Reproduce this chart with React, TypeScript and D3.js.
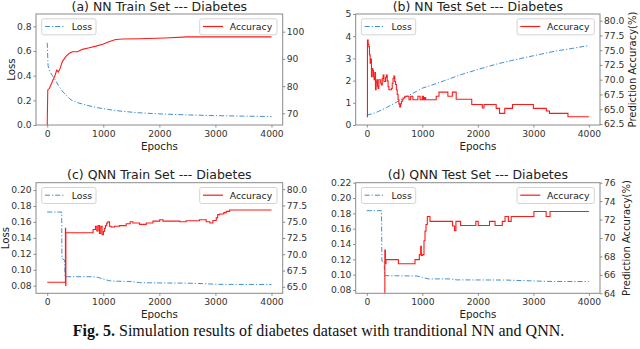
import React, { useEffect, useRef } from 'react';
import * as d3 from 'd3';

const epochTicks = [0, 1000, 2000, 3000, 4000];

// (a) NN train set
const aLossEpochs = [0, 15, 50, 100, 150, 200, 270, 350, 420, 550, 700, 900, 1100, 1300, 1600, 2000, 2500, 3000, 3500, 4000];
const aLoss = [0.666, 0.48, 0.43, 0.395, 0.36, 0.32, 0.275, 0.235, 0.205, 0.18, 0.16, 0.14, 0.125, 0.113, 0.1, 0.09, 0.082, 0.076, 0.072, 0.069];
const aAccEpochs = [0, 10, 40, 90, 140, 170, 200, 230, 270, 330, 390, 450, 540, 630, 750, 870, 990, 1100, 1220, 1350, 1650, 2100, 2500, 4000];
const aAcc = [65.7, 78.6, 79.2, 81.6, 84.0, 85.9, 85.2, 86.5, 89.0, 90.8, 92.0, 92.6, 92.6, 93.5, 94.1, 94.7, 95.4, 96.3, 97.1, 97.3, 97.4, 97.7, 98.1, 98.1];

// (b) NN test set
const bLossEpochs = [0, 100, 200, 350, 500, 700, 900, 1000, 1150, 1400, 1700, 2000, 2300, 2600, 3000, 3400, 3700, 4000];
const bLoss = [0.45, 0.5, 0.6, 0.78, 0.98, 1.26, 1.52, 1.66, 1.78, 2.0, 2.27, 2.5, 2.72, 2.9, 3.12, 3.33, 3.45, 3.58];
const bAccEpochs = [0, 12, 24, 36, 48, 60, 72, 84, 96, 108, 120, 132, 144, 156, 168, 180, 192, 204, 216, 234, 250, 263, 278, 293, 308, 323, 338, 353, 368, 383, 398, 443, 458, 473, 488, 503, 518, 533, 548, 563, 578, 593, 608, 623, 638, 653, 683, 760, 790, 830, 920, 960, 1000, 1020, 1040, 1060, 1250, 1300, 1460, 1540, 1610, 1890, 2080, 2110, 2330, 2390, 2485, 2623, 3000, 3234, 3290, 3623, 4000];
const bAcc = [63.74, 76.7, 76.0, 75.6, 74.2, 72.8, 73.5, 70.5, 71.9, 71.6, 70.5, 70.0, 71.2, 68.3, 69.6, 70.0, 68.9, 68.5, 70.0, 70.0, 69.4, 69.1, 70.2, 70.8, 69.7, 69.7, 70.4, 70.8, 69.8, 68.8, 68.3, 68.5, 69.4, 70.2, 70.6, 69.7, 69.2, 68.3, 67.5, 66.6, 65.9, 65.4, 65.9, 66.3, 66.6, 66.9, 67.2, 66.6, 67.2, 66.6, 67.2, 66.6, 67.2, 66.6, 67.0, 66.6, 67.2, 67.9, 67.2, 67.9, 66.7, 65.8, 65.2, 65.8, 65.15, 64.3, 65.15, 65.8, 65.15, 64.7, 64.3, 63.74, 63.74];

// (c) QNN train set
const cLossEpochs = [0, 258, 262, 300, 311, 318, 800, 900, 1000, 1105, 1200, 1500, 1650, 2000, 2500, 2800, 3000, 3500, 4000];
const cLoss = [0.1724, 0.1724, 0.1143, 0.1125, 0.112, 0.0913, 0.0913, 0.0905, 0.0885, 0.0862, 0.0857, 0.0853, 0.0838, 0.0835, 0.0832, 0.0826, 0.0818, 0.0816, 0.0816];
const cAccEpochs = [0, 325, 329, 333, 818, 860, 884, 908, 932, 955, 979, 1003, 1020, 1039, 1060, 1081, 1111, 1140, 1200, 1290, 1409, 1480, 1528, 1648, 1767, 1886, 2006, 2065, 2125, 2364, 2478, 2716, 2836, 2900, 2955, 3015, 3040, 3075, 3150, 3194, 3254, 4000];
const cAcc = [65.7, 74.0, 65.2, 73.3, 73.8, 74.3, 73.6, 74.4, 73.2, 74.3, 73.0, 73.5, 74.0, 74.4, 74.8, 75.0, 74.3, 74.2, 74.3, 74.4, 74.7, 75.0, 74.8, 74.6, 74.8, 75.1, 75.3, 75.1, 75.1, 75.0, 75.15, 75.3, 75.0, 74.8, 75.2, 75.6, 76.1, 76.2, 76.4, 76.6, 76.8, 76.8];

// (d) QNN test set
const dLossEpochs = [0, 265, 272, 312, 320, 900, 1000, 1108, 1500, 1620, 2500, 3000, 3300, 4000];
const dLoss = [0.1835, 0.1835, 0.1178, 0.1178, 0.0987, 0.0983, 0.0965, 0.0945, 0.0945, 0.0932, 0.093, 0.0918, 0.0912, 0.091];
const dAccEpochs = [0, 325, 335, 345, 569, 868, 946, 970, 982, 1006, 1030, 1048, 1066, 1090, 1138, 1545, 1581, 1605, 1689, 1964, 2006, 2210, 2310, 2440, 2490, 2550, 2600, 3010, 3230, 3300, 4000];
const dAcc = [63.0, 68.7, 67.2, 67.65, 67.2, 67.65, 68.2, 69.1, 68.1, 68.2, 69.7, 70.75, 71.46, 72.34, 71.8, 71.3, 70.8, 71.8, 71.35, 71.8, 71.35, 71.8, 71.35, 71.8, 72.34, 71.8, 72.34, 72.88, 72.34, 72.88, 72.88];

const panels = [
  {
    id: 'a', title: '(a) NN Train Set --- Diabetes',
    left: 36, right: 282.7, top: 14, bottom: 125,
    lossEpochs: aLossEpochs, loss: aLoss, accEpochs: aAccEpochs, acc: aAcc, accStep: false,
    lossDomain: [0, 0.9], lossTicks: [0, 0.2, 0.4, 0.6, 0.8], lossFmt: '.1f',
    accDomain: [65.7, 106.5], accTicks: [70, 80, 90, 100], accFmt: 'd',
    lossLabel: 'Loss', lossLabelX: 14.5, accLabel: null,
  },
  {
    id: 'b', title: '(b) NN Test Set --- Diabetes',
    left: 355.7, right: 600, top: 14, bottom: 125,
    lossEpochs: bLossEpochs, loss: bLoss, accEpochs: bAccEpochs, acc: bAcc, accStep: true,
    lossDomain: [0, 5], lossTicks: [0, 1, 2, 3, 4, 5], lossFmt: 'd',
    accDomain: [62.33, 81.13], accTicks: [62.5, 65, 67.5, 70, 72.5, 75, 77.5, 80], accFmt: '.1f',
    lossLabel: null, accLabel: 'Prediction Accuracy(%)', accLabelX: 635.5,
  },
  {
    id: 'c', title: '(c) QNN Train Set --- Diabetes',
    left: 36, right: 282.7, top: 182.7, bottom: 293.3,
    lossEpochs: cLossEpochs, loss: cLoss, accEpochs: cAccEpochs, acc: cAcc, accStep: true,
    lossDomain: [0.0705, 0.2092], lossTicks: [0.08, 0.1, 0.12, 0.14, 0.16, 0.18, 0.2], lossFmt: '.2f',
    accDomain: [64.0, 81.0], accTicks: [65, 67.5, 70, 72.5, 75, 77.5, 80], accFmt: '.1f',
    lossLabel: 'Loss', lossLabelX: 9.2, accLabel: null,
  },
  {
    id: 'd', title: '(d) QNN Test Set --- Diabetes',
    left: 355.7, right: 600, top: 182.7, bottom: 293.3,
    lossEpochs: dLossEpochs, loss: dLoss, accEpochs: dAccEpochs, acc: dAcc, accStep: true,
    lossDomain: [0.0757, 0.22], lossTicks: [0.08, 0.1, 0.12, 0.14, 0.16, 0.18, 0.2, 0.22], lossFmt: '.2f',
    accDomain: [64, 76], accTicks: [64, 66, 68, 70, 72, 74, 76], accFmt: 'd',
    lossLabel: null, accLabel: 'Prediction Accuracy(%)', accLabelX: 629.5,
  },
];

const FONT = 'DejaVu Sans';
const LOSS_COLOR = '#3f8fd2';
const ACC_COLOR = '#ff1a1a';
const SPINE = '#8a8a8a';
const TEXT = '#333';

function drawPanel(svg, p) {
  const g = svg.append('g').attr('font-family', FONT);
  const x = d3.scaleLinear().domain([-200, 4200]).range([p.left, p.right]);
  const yL = d3.scaleLinear().domain(p.lossDomain).range([p.bottom, p.top]);
  const yR = d3.scaleLinear().domain(p.accDomain).range([p.bottom, p.top]);

  svg.append('clipPath').attr('id', 'clip-' + p.id)
    .append('rect')
    .attr('x', p.left).attr('y', p.top)
    .attr('width', p.right - p.left).attr('height', p.bottom - p.top);

  const lines = g.append('g').attr('clip-path', 'url(#clip-' + p.id + ')');

  const lossLine = d3.line().x((d) => x(d[0])).y((d) => yL(d[1]));
  lines.append('path')
    .datum(d3.zip(p.lossEpochs, p.loss))
    .attr('fill', 'none')
    .attr('stroke', LOSS_COLOR)
    .attr('stroke-width', 1)
    .attr('stroke-dasharray', '5,2,1.2,2')
    .attr('d', lossLine);

  const accLine = d3.line().x((d) => x(d[0])).y((d) => yR(d[1]))
    .curve(p.accStep ? d3.curveStepAfter : d3.curveLinear);
  lines.append('path')
    .datum(d3.zip(p.accEpochs, p.acc))
    .attr('fill', 'none')
    .attr('stroke', ACC_COLOR)
    .attr('stroke-width', 1.1)
    .attr('d', accLine);

  const styleAxis = (sel) => {
    sel.select('.domain').remove();
    sel.selectAll('line').attr('stroke', SPINE);
    sel.selectAll('text').attr('fill', TEXT).attr('font-size', 9.2).attr('font-family', FONT);
  };

  g.append('g')
    .attr('transform', 'translate(0,' + p.bottom + ')')
    .call(d3.axisBottom(x).tickValues(epochTicks).tickFormat(d3.format('d')).tickSize(2.5).tickPadding(3))
    .call(styleAxis);

  g.append('g')
    .attr('transform', 'translate(' + p.left + ',0)')
    .call(d3.axisLeft(yL).tickValues(p.lossTicks).tickFormat(d3.format(p.lossFmt)).tickSize(2.5).tickPadding(1.8))
    .call(styleAxis);

  g.append('g')
    .attr('transform', 'translate(' + p.right + ',0)')
    .call(d3.axisRight(yR).tickValues(p.accTicks).tickFormat(d3.format(p.accFmt)).tickSize(2.5).tickPadding(1.5))
    .call(styleAxis);

  g.append('rect')
    .attr('x', p.left).attr('y', p.top)
    .attr('width', p.right - p.left).attr('height', p.bottom - p.top)
    .attr('fill', 'none').attr('stroke', SPINE).attr('stroke-width', 1);

  // title and labels
  g.append('text')
    .attr('x', (p.left + p.right) / 2).attr('y', p.top - 3.5)
    .attr('text-anchor', 'middle').attr('font-size', 12.5).attr('fill', '#222')
    .text(p.title);

  g.append('text')
    .attr('x', (p.left + p.right) / 2).attr('y', p.bottom + 24.5)
    .attr('text-anchor', 'middle').attr('font-size', 10.3).attr('fill', '#222')
    .text('Epochs');

  const midY = (p.top + p.bottom) / 2;
  if (p.lossLabel) {
    g.append('text')
      .attr('transform', 'translate(' + p.lossLabelX + ',' + midY + ') rotate(-90)')
      .attr('text-anchor', 'middle').attr('font-size', 10.2).attr('fill', '#222')
      .text(p.lossLabel);
  }
  if (p.accLabel) {
    g.append('text')
      .attr('transform', 'translate(' + p.accLabelX + ',' + midY + ') rotate(-90)')
      .attr('text-anchor', 'middle').attr('font-size', 10).attr('fill', '#222')
      .text(p.accLabel);
  }

  // legends
  const legend = (bx, label, color, dash, w) => {
    const by = p.top + 4.8;
    const lg = g.append('g');
    lg.append('rect')
      .attr('x', bx).attr('y', by).attr('width', w).attr('height', 16)
      .attr('rx', 2).attr('fill', 'white').attr('fill-opacity', 0.85)
      .attr('stroke', '#d4d4d4').attr('stroke-width', 1);
    lg.append('line')
      .attr('x1', bx + 3.3).attr('x2', bx + 23.3)
      .attr('y1', by + 7.7).attr('y2', by + 7.7)
      .attr('stroke', color).attr('stroke-width', dash ? 1 : 1.2)
      .attr('stroke-dasharray', dash || null);
    lg.append('text')
      .attr('x', bx + 30).attr('y', by + 11.5)
      .attr('font-size', 9.3).attr('fill', '#222')
      .text(label);
  };
  legend(p.left + 5.7, 'Loss', LOSS_COLOR, '5,2,1.2,2', 54.3);
  legend(p.right - 5.7 - 77.3, 'Accuracy', ACC_COLOR, null, 77.3);
}

export default function App() {
  const svgRef = useRef(null);

  useEffect(() => {
    const svg = d3.select(svgRef.current);
    svg.selectAll('*').remove();
    svg.append('rect').attr('width', 640).attr('height', 349).attr('fill', 'white');
    panels.forEach((p) => drawPanel(svg, p));

    const cap = svg.append('text')
      .attr('x', 318.5).attr('y', 336)
      .attr('text-anchor', 'middle')
      .attr('font-family', 'Liberation Serif')
      .attr('font-size', 16)
      .attr('fill', '#111');
    cap.append('tspan').attr('font-weight', 'bold').text('Fig. 5.');
    cap.append('tspan').text(' Simulation results of diabetes dataset with tranditional NN and QNN.');
  }, []);

  return (
    <svg
      ref={svgRef}
      width={640}
      height={349}
      style={{ position: 'absolute', left: 0, top: 0 }}
    />
  );
}
